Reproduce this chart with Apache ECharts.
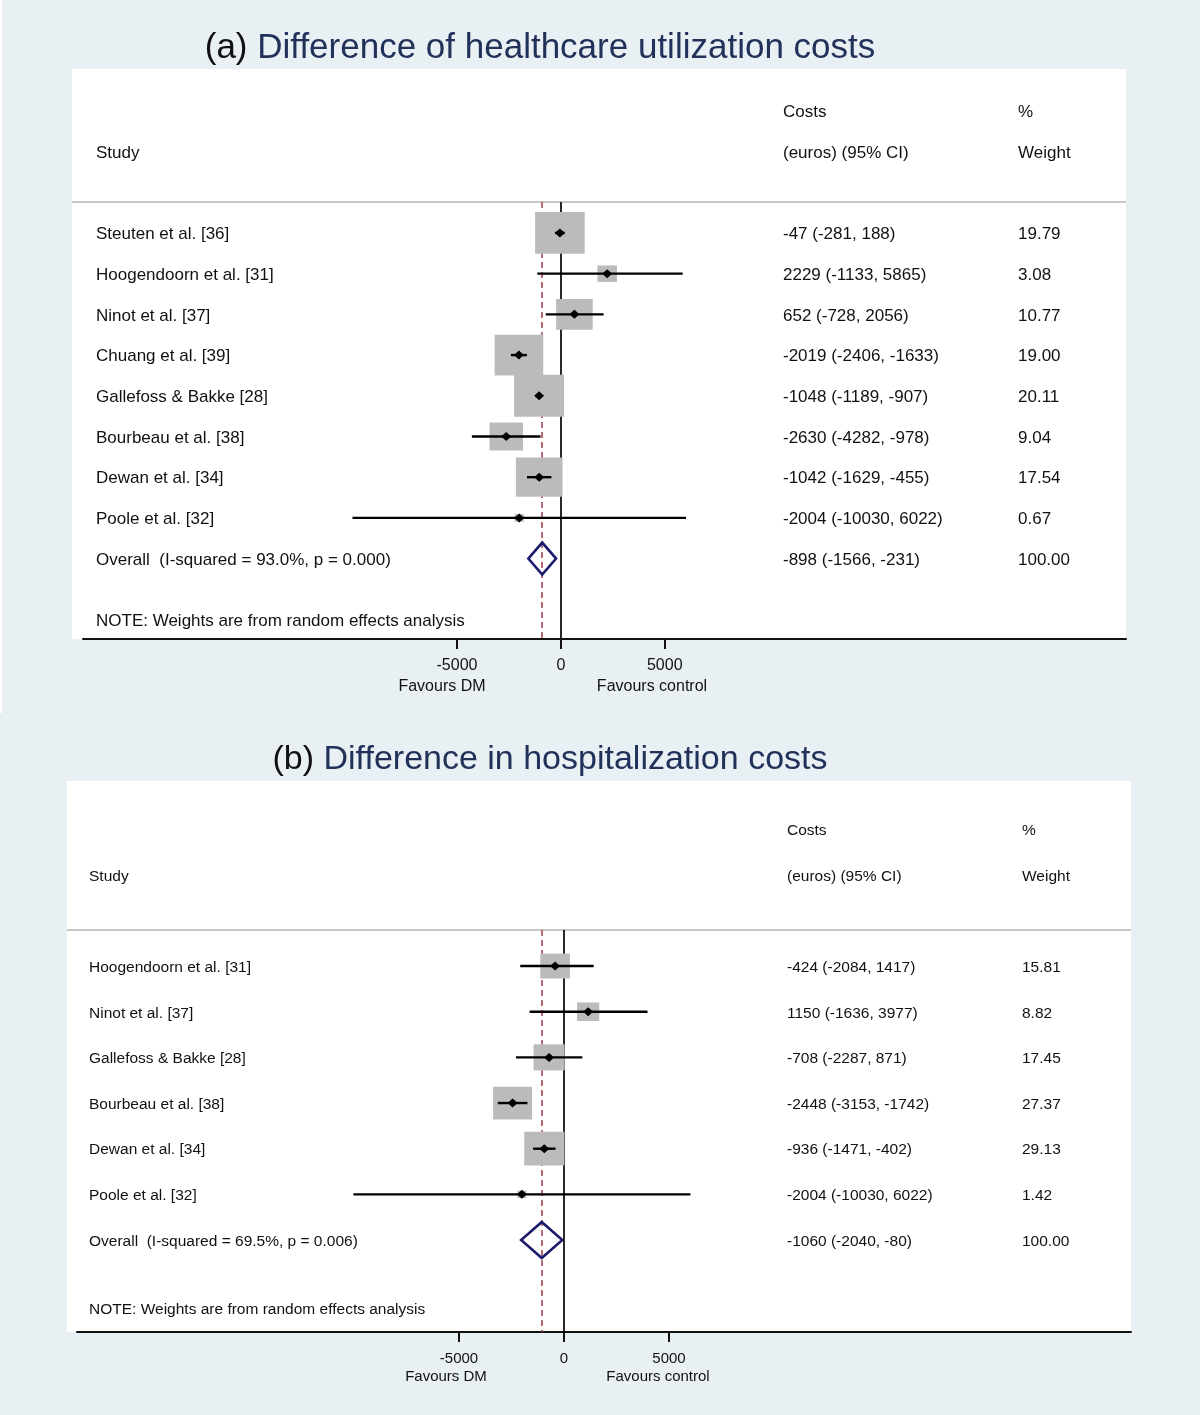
<!DOCTYPE html>
<html>
<head>
<meta charset="utf-8">
<script src="https://cdn.jsdelivr.net/npm/echarts@6/dist/echarts.min.js"></script>
<style>
html,body{margin:0;padding:0;background:#e9f0f3;}
#chart{width:1200px;height:1415px;}
</style>
</head>
<body>
<div id="chart"></div>
<script>
// ---------- Panel (a): healthcare utilization costs ----------
const studiesA = ['Steuten et al. [36]', 'Hoogendoorn et al. [31]', 'Ninot et al. [37]', 'Chuang et al. [39]',
  'Gallefoss & Bakke [28]', 'Bourbeau et al. [38]', 'Dewan et al. [34]', 'Poole et al. [32]'];
const estA = [-47, 2229, 652, -2019, -1048, -2630, -1042, -2004];
const loA = [-281, -1133, -728, -2406, -1189, -4282, -1629, -10030];
const hiA = [188, 5865, 2056, -1633, -907, -978, -455, 6022];
const weightA = [19.79, 3.08, 10.77, 19.00, 20.11, 9.04, 17.54, 0.67];
const overallA = [-898, -1566, -231];
const overallLabelA = 'Overall  (I-squared = 93.0%, p = 0.000)';
const titleA = ['(a) ', 'Difference of healthcare utilization costs'];

// ---------- Panel (b): hospitalization costs ----------
const studiesB = ['Hoogendoorn et al. [31]', 'Ninot et al. [37]', 'Gallefoss & Bakke [28]', 'Bourbeau et al. [38]',
  'Dewan et al. [34]', 'Poole et al. [32]'];
const estB = [-424, 1150, -708, -2448, -936, -2004];
const loB = [-2084, -1636, -2287, -3153, -1471, -10030];
const hiB = [1417, 3977, 871, -1742, -402, 6022];
const weightB = [15.81, 8.82, 17.45, 27.37, 29.13, 1.42];
const overallB = [-1060, -2040, -80];
const overallLabelB = 'Overall  (I-squared = 69.5%, p = 0.006)';
const titleB = ['(b) ', 'Difference in hospitalization costs'];

// ---------- shared ----------
const tickValues = [-5000, 0, 5000];
const headerTop = ['', 'Costs', '%'];
const headerBottom = ['Study', '(euros) (95% CI)', 'Weight'];
const noteText = 'NOTE: Weights are from random effects analysis';
const favours = ['Favours DM', 'Favours control'];

const FONT = '"Liberation Sans", Arial, Helvetica, sans-serif';
const TXT = '#111111';

function buildRows(studies, est, lo, hi, w, overall, overallLabel) {
  const rows = [];
  rows.push({row: -3, cells: headerTop});
  rows.push({row: -2, cells: headerBottom});
  studies.forEach((s, i) => {
    rows.push({row: i, cells: [s, est[i] + ' (' + lo[i] + ', ' + hi[i] + ')', w[i].toFixed(2)]});
  });
  const n = studies.length;
  rows.push({row: n, cells: [overallLabel, overall[0] + ' (' + overall[1] + ', ' + overall[2] + ')', '100.00']});
  rows.push({row: n + 1.5, cells: [noteText, '', '']});
  return rows;
}
const rowsA = buildRows(studiesA, estA, loA, hiA, weightA, overallA, overallLabelA);
const rowsB = buildRows(studiesB, estB, loB, hiB, weightB, overallB, overallLabelB);

function textRenderer(rows, colX, fontSize) {
  return function (params, api) {
    const r = rows[params.dataIndex];
    const y = api.coord([0, r.row])[1] + 1.5;
    return {
      type: 'group',
      children: r.cells.map((t, j) => ({
        type: 'text',
        style: {text: t, x: colX[j], y: y, align: 'left', verticalAlign: 'middle',
          fontSize: fontSize, fontFamily: FONT, fill: TXT}
      }))
    };
  };
}

function forestRenderer(k) {
  return function (params, api) {
    const e = api.value(0), row = api.value(1), lo = api.value(2), hi = api.value(3), w = api.value(4);
    const c = api.coord([e, row]);
    const l = api.coord([lo, row]);
    const h = api.coord([hi, row]);
    const side = k * Math.sqrt(w);
    const bh = side * 0.84;
    return {
      type: 'group',
      children: [
        {type: 'rect', shape: {x: c[0] - side / 2, y: c[1] - bh / 2, width: side, height: bh},
          style: {fill: '#bbbbbb'}},
        {type: 'line', shape: {x1: l[0], y1: l[1], x2: h[0], y2: h[1]},
          style: {stroke: '#000', lineWidth: 2.4}},
        {type: 'polygon', shape: {points: [[c[0] - 5, c[1]], [c[0], c[1] - 4.5], [c[0] + 5, c[1]], [c[0], c[1] + 4.5]]},
          style: {fill: '#000'}}
      ]
    };
  };
}

function overallRenderer(hh) {
  return function (params, api) {
    const row = api.value(1);
    const c = api.coord([api.value(0), row]);
    const l = api.coord([api.value(2), row]);
    const h = api.coord([api.value(3), row]);
    return {
      type: 'polygon',
      shape: {points: [[l[0], l[1]], [c[0], c[1] - hh], [h[0], h[1]], [c[0], c[1] + hh]]},
      style: {fill: 'none', stroke: '#1a1a6e', lineWidth: 2.6}
    };
  };
}

function xAxisDef(gridIndex, min, max, fontSize) {
  return {
    type: 'value', gridIndex: gridIndex, min: min, max: max, position: 'bottom',
    splitLine: {show: false},
    axisLine: {show: true, onZero: false, lineStyle: {color: '#111', width: 2}},
    axisTick: {show: true, customValues: tickValues, length: 10, inside: false, lineStyle: {color: '#111', width: 2}},
    axisLabel: {show: true, customValues: tickValues, margin: 19, fontSize: fontSize, fontFamily: FONT, color: TXT,
      formatter: v => String(v), showMinLabel: true, showMaxLabel: true}
  };
}
function yAxisDef(gridIndex, min, max) {
  return {type: 'value', gridIndex: gridIndex, min: min, max: max, inverse: true, show: false,
    axisLine: {onZero: false}, splitLine: {show: false}};
}

const chart = echarts.init(document.getElementById('chart'), null, {renderer: 'canvas'});

const option = {
  backgroundColor: '#e9f0f3',
  animation: false,
  grid: [
    {left: 83, right: 74, top: 202, bottom: 776},
    {left: 77, right: 69, top: 930, bottom: 83}
  ],
  xAxis: [
    xAxisDef(0, -23000, 27200, 16),
    xAxisDef(1, -23190, 27000, 15)
  ],
  yAxis: [
    yAxisDef(0, -0.76, 9.975),
    yAxisDef(1, -0.79, 8.015)
  ],
  graphic: {
    elements: [
      {type: 'rect', z: -20, shape: {x: 0, y: 0, width: 2, height: 713}, style: {fill: '#ffffff'}},
      {type: 'rect', z: -20, shape: {x: 72, y: 69, width: 1054, height: 570}, style: {fill: '#ffffff'}},
      {type: 'rect', z: -20, shape: {x: 67, y: 781, width: 1064, height: 551}, style: {fill: '#ffffff'}},
      {type: 'line', z: -10, shape: {x1: 72, y1: 202, x2: 1126, y2: 202}, style: {stroke: '#b4b4b4', lineWidth: 1.6}},
      {type: 'line', z: -10, shape: {x1: 67, y1: 930, x2: 1131, y2: 930}, style: {stroke: '#b4b4b4', lineWidth: 1.6}},
      {type: 'text', x: 540, y: 48, style: {
        text: '{k|' + titleA[0] + '}{t|' + titleA[1] + '}', align: 'center', verticalAlign: 'middle',
        rich: {k: {fill: '#111', fontSize: 35, fontFamily: FONT}, t: {fill: '#22315a', fontSize: 35, fontFamily: FONT}}
      }},
      {type: 'text', x: 550, y: 760, style: {
        text: '{k|' + titleB[0] + '}{t|' + titleB[1] + '}', align: 'center', verticalAlign: 'middle',
        rich: {k: {fill: '#111', fontSize: 34, fontFamily: FONT}, t: {fill: '#22315a', fontSize: 34, fontFamily: FONT}}
      }},
      {type: 'text', x: 442, y: 687, style: {text: favours[0], align: 'center', verticalAlign: 'middle', fontSize: 16, fontFamily: FONT, fill: TXT}},
      {type: 'text', x: 652, y: 687, style: {text: favours[1], align: 'center', verticalAlign: 'middle', fontSize: 16, fontFamily: FONT, fill: TXT}},
      {type: 'text', x: 446, y: 1377, style: {text: favours[0], align: 'center', verticalAlign: 'middle', fontSize: 15, fontFamily: FONT, fill: TXT}},
      {type: 'text', x: 658, y: 1377, style: {text: favours[1], align: 'center', verticalAlign: 'middle', fontSize: 15, fontFamily: FONT, fill: TXT}}
    ]
  },
  series: [
    // reference lines panel a
    {type: 'line', xAxisIndex: 0, yAxisIndex: 0, data: [], z: 1,
      markLine: {silent: true, symbol: 'none', z: 1, label: {show: false}, animation: false,
        data: [
          {xAxis: 0, lineStyle: {color: '#111', width: 1.8, type: 'solid'}},
          {xAxis: overallA[0], lineStyle: {color: '#a03c4c', width: 1.5, type: [6, 4]}}
        ]}},
    {type: 'custom', xAxisIndex: 0, yAxisIndex: 0, z: 3, clip: false,
      data: estA.map((e, i) => [e, i, loA[i], hiA[i], weightA[i]]),
      renderItem: forestRenderer(11.15)},
    {type: 'custom', xAxisIndex: 0, yAxisIndex: 0, z: 4, clip: false,
      data: [[overallA[0], studiesA.length, overallA[1], overallA[2]]],
      renderItem: overallRenderer(16)},
    {type: 'custom', xAxisIndex: 0, yAxisIndex: 0, z: 4, clip: false,
      data: rowsA.map(r => [0, r.row]),
      renderItem: textRenderer(rowsA, [96, 783, 1018], 17)},

    // reference lines panel b
    {type: 'line', xAxisIndex: 1, yAxisIndex: 1, data: [], z: 1,
      markLine: {silent: true, symbol: 'none', z: 1, label: {show: false}, animation: false,
        data: [
          {xAxis: 0, lineStyle: {color: '#111', width: 1.8, type: 'solid'}},
          {xAxis: overallB[0], lineStyle: {color: '#a03c4c', width: 1.5, type: [6, 4]}}
        ]}},
    {type: 'custom', xAxisIndex: 1, yAxisIndex: 1, z: 3, clip: false,
      data: estB.map((e, i) => [e, i, loB[i], hiB[i], weightB[i]]),
      renderItem: forestRenderer(7.45)},
    {type: 'custom', xAxisIndex: 1, yAxisIndex: 1, z: 4, clip: false,
      data: [[overallB[0], studiesB.length, overallB[1], overallB[2]]],
      renderItem: overallRenderer(18)},
    {type: 'custom', xAxisIndex: 1, yAxisIndex: 1, z: 4, clip: false,
      data: rowsB.map(r => [0, r.row]),
      renderItem: textRenderer(rowsB, [89, 787, 1022], 15.5)}
  ]
};
chart.setOption(option);
</script>
</body>
</html>
